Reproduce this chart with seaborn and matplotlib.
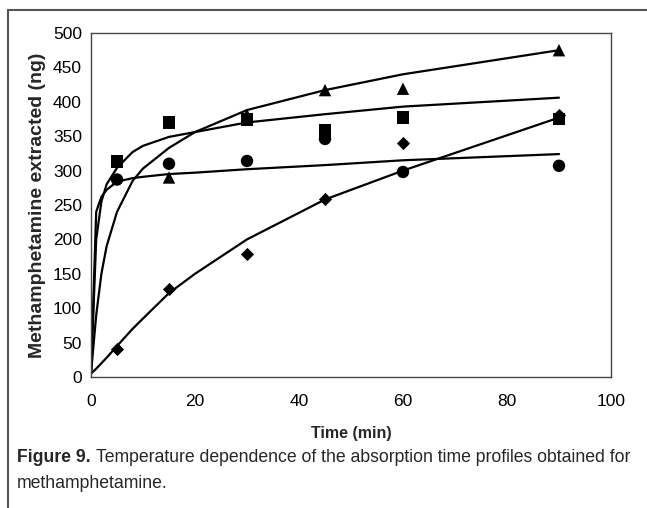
import numpy as np
import pandas as pd
import seaborn as sns
import matplotlib.pyplot as plt
from matplotlib.lines import Line2D

# measured points (time in min, ng extracted)
times = [5, 15, 30, 45, 60, 90]
square_y = [313, 370, 374, 358, 377, 375]
circle_y = [287, 310, 314, 346, 298, 307]
triangle_y = [np.nan, 290, 381, 417, 419, 475]
diamond_y = [40, 128, 179, 259, 340, 381]

# fitted curves
fit_t = [0, 1, 2, 3, 5, 8, 10, 15, 20, 30, 45, 60, 90]
square_fit = [5, 200, 255, 280, 304, 327, 336, 349, 356, 370, 382, 393, 406]
circle_fit = [5, 240, 262, 272, 284, 289, 291, 295, 297, 302, 308, 315, 324]
triangle_fit = [5, 90, 150, 190, 240, 285, 303, 333, 356, 388, 417, 440, 475]
diamond_fit = [5, 12, 20, 28, 45, 70, 85, 122, 150, 200, 258, 300, 377]

xticks = [0, 20, 40, 60, 80, 100]
yticks = list(range(0, 501, 50))

names = ['square', 'circle', 'triangle', 'diamond']
pts = pd.DataFrame({
    'time': times * 4,
    'ng': square_y + circle_y + triangle_y + diamond_y,
    'series': np.repeat(names, len(times)),
}).dropna()
fits = pd.DataFrame({
    'time': fit_t * 4,
    'ng': square_fit + circle_fit + triangle_fit + diamond_fit,
    'series': np.repeat(names, len(fit_t)),
})

sns.set_theme(style='white')
plt.rcParams['font.family'] = ['Liberation Sans', 'DejaVu Sans']

fig = plt.figure(figsize=(6.47, 5.08), dpi=100)
ax = fig.add_axes([91/647, 1 - 377/508, 520/647, 344/508])

sns.lineplot(data=fits, x='time', y='ng', units='series', estimator=None,
             sort=False, color='black', lw=1.6, ax=ax, legend=False)
big = pts[pts.series != 'diamond']
sns.scatterplot(data=big, x='time', y='ng', style='series',
                markers={'square': 's', 'circle': 'o', 'triangle': '^'},
                color='black', s=80, linewidth=0, ax=ax, legend=False, zorder=3)
sns.scatterplot(data=pts[pts.series == 'diamond'], x='time', y='ng',
                marker='D', color='black', s=45, linewidth=0, ax=ax,
                legend=False, zorder=3)

ax.set_xlim(0, 100)
ax.set_ylim(0, 500)
ax.set_xticks(xticks)
ax.set_yticks(yticks)
ax.tick_params(direction='inout', length=7, width=0.8, colors='#222222',
               labelsize=12.5, labelcolor='black')
ax.tick_params(axis='x', pad=9)
ax.tick_params(axis='y', pad=3)
for sp in ax.spines.values():
    sp.set_color('#444444')
    sp.set_linewidth(1.0)
ax.set_xlabel('Time (min)', fontsize=11.5, fontweight='bold', labelpad=12)
ax.set_ylabel('Methamphetamine extracted (ng)', fontsize=14, fontweight='bold', labelpad=5)

# outer frame of the printed figure
fig.add_artist(Line2D([8/647, 1], [1 - 10/508, 1 - 10/508], color='#555555', lw=1.5))
fig.add_artist(Line2D([8/647, 8/647], [0, 1 - 10/508], color='#555555', lw=1.5))

cap_font = ['Liberation Sans', 'DejaVu Sans']
t1 = fig.text(17/647, 1 - 458/508, 'Figure 9.', fontsize=12.7, fontweight='bold',
              family=cap_font, va='center', ha='left')
fig.canvas.draw()
bb = t1.get_window_extent()
fig.text((bb.x1 + 5) / 647, 1 - 458/508,
         'Temperature dependence of the absorption time profiles obtained for',
         fontsize=12.7, family=cap_font, va='center', ha='left')
fig.text(17/647, 1 - 483/508, 'methamphetamine.', fontsize=12.7,
         family=cap_font, va='center', ha='left')

fig.savefig('out.png', dpi=100)
